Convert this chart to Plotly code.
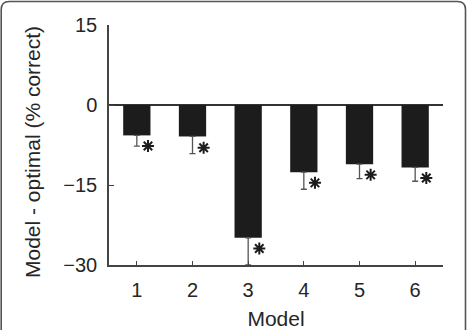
import plotly.graph_objects as go

models = [1, 2, 3, 4, 5, 6]
tick_text = ["1", "2", "3", "4", "5", "6"]
diff_values = [-5.7, -5.9, -24.9, -12.6, -11.1, -11.7]
err_minus = [2.0, 3.2, 5.1, 3.2, 2.7, 2.6]
star_y = [-7.7, -8.0, -26.9, -14.6, -13.1, -13.7]
y_ticks = [15, 0, -15, -30]
y_tick_text = ["15", "0", "\u221215", "\u221230"]

W, H = 469, 330
L, R, T, B = 109, 26, 25, 65
pw, ph = W - L - R, H - T - B

fig = go.Figure()
fig.add_trace(go.Bar(
    x=models, y=diff_values, width=0.49,
    marker=dict(color="#1c1c1c", line=dict(width=0)),
    error_y=dict(type="data", symmetric=False, array=[0]*6, arrayminus=err_minus,
                 color="#555555", thickness=1.3, width=3),
    showlegend=False,
))
fig.add_trace(go.Scatter(
    x=[m + 0.2 for m in models], y=star_y, mode="markers",
    marker=dict(symbol="asterisk-open", size=10, color="#1c1c1c",
                line=dict(color="#1c1c1c", width=2)),
    showlegend=False,
))

def P(px, py):
    a, b = (px - L) / pw, (H - B - py) / ph
    return f"{a:.5f},{b:.5f}"

# rounded frame around the whole picture
r = 8
x0, x1, y0, yb = 1.2, 465.5, 1.5, 340
path = (f"M {P(x0, yb)} L {P(x0, y0 + r)} Q {P(x0, y0)} {P(x0 + r, y0)} "
        f"L {P(x1 - r, y0)} Q {P(x1, y0)} {P(x1, y0 + r)} L {P(x1, yb)}")
fig.add_shape(type="path", path=path, xref="paper", yref="paper",
              line=dict(color="#555555", width=1.6), layer="above")

# y-axis title (placed as annotation to match the original's vertical offset)
fig.add_annotation(text="Model - optimal (% correct)", textangle=-90,
                   xref="paper", yref="paper",
                   x=(32 - L) / pw, y=(H - B - 152) / ph,
                   xanchor="center", yanchor="middle", showarrow=False,
                   font=dict(size=21, color="#262626"))

fig.update_layout(
    width=W, height=H,
    margin=dict(l=L, r=R, t=T, b=B),
    paper_bgcolor="white", plot_bgcolor="white",
    font=dict(family="Liberation Sans, Arial, sans-serif", size=20, color="#262626"),
    bargap=0.5,
    xaxis=dict(range=[0.5, 6.5], tickvals=models, ticktext=tick_text,
               showline=True, linecolor="#444444", linewidth=1.5,
               ticks="inside", ticklen=4, tickcolor="#444444", tickwidth=1.2,
               ticklabelstandoff=6, automargin=False,
               showgrid=False, zeroline=False,
               title=dict(text="Model", standoff=12, font=dict(size=21))),
    yaxis=dict(range=[-30, 15], tickvals=y_ticks, ticktext=y_tick_text,
               showline=True, linecolor="#444444", linewidth=1.5,
               ticks="inside", ticklen=5, tickcolor="#444444", tickwidth=1.2,
               ticklabelstandoff=6, automargin=False,
               showgrid=False, zeroline=True, zerolinecolor="#333333", zerolinewidth=1.5),
)

fig.write_html("out.html")
